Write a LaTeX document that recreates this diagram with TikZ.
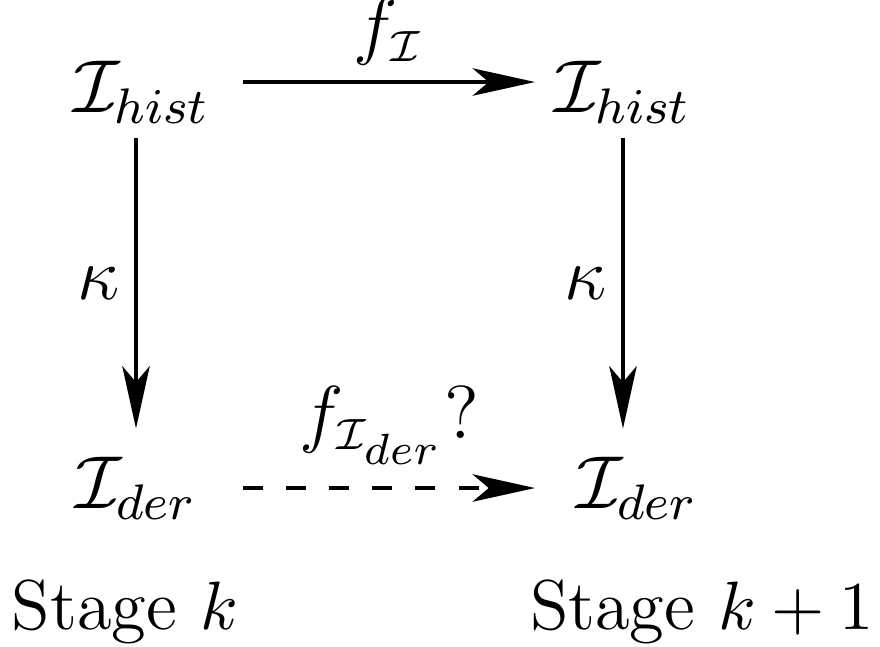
\documentclass[tikz,border=0pt]{standalone}
\usepackage{amsmath,amssymb}
\usepackage{tikz}
\usetikzlibrary{arrows.meta,positioning,calc}
\DeclareMathSizes{13}{13}{8.5}{6}
\DeclareMathSizes{11.5}{11.5}{7}{5}
\newcommand{\Ih}{\mathcal{I}_{hist}}
\newcommand{\Id}{\mathcal{I}_{der}}

\begin{document}
\begin{tikzpicture}[x=0.16pt,y=-0.16pt,>={Stealth[length=10pt,width=4.4pt,inset=2.6pt]},
    every node/.style={font=\fontsize{13}{15}\selectfont},
    space/.style={inner sep=0pt},
    lbl/.style={inner sep=0pt,font=\fontsize{11.5}{14}\selectfont},
    map/.style={->,line width=0.5pt}]
  \useasboundingbox (0,0) rectangle (880,646);
  \node[space] (histk)  at (142,92)  {$\Ih$};
  \node[space] (histk1) at (623,92)  {$\Ih$};
  \node[space] (derk)   at (136,488) {$\Id$};
  \node[space] (derk1)  at (637,488) {$\Id$};
  \node[font=\fontsize{11.3}{14}\selectfont] (stagek)  at (125,612) {Stage $k$};
  \node[font=\fontsize{11.3}{14}\selectfont] (stagek1) at (702,612) {Stage $k+1$};
  \coordinate (a) at (243,82);
  \coordinate (b) at (535,82);
  \draw[map] (a) -- node[lbl,above=2.5pt] {$f_{\mathcal{I}}$} (b);
  \draw[map] ($(histk.south -| derk)+(0,13)$) -- node[lbl,left=2.4pt] {$\kappa$} ($(derk.north)+(0,-27)$);
  \draw[map] ($(histk1.south)+(0,13)$) -- node[lbl,left=2.4pt] {$\kappa$} ($(histk1.south |- derk1.north)+(0,-27)$);
  \draw[map,dash pattern=on 3.2pt off 3.7pt] (a |- derk) -- node[lbl,above=3.5pt] {$f_{\mathcal{I}_{\scriptstyle der}}?$} (b |- derk);
\end{tikzpicture}
\end{document}
